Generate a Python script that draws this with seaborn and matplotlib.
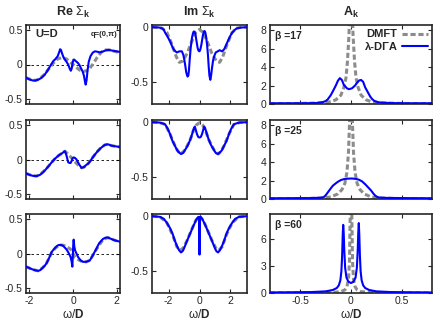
import matplotlib
matplotlib.use("Agg")
import matplotlib.pyplot as plt
import seaborn as sns

# ---------------- data ----------------
# column 1: Re Sigma_k
re1_b_x = [-2.15,-2.0,-1.85,-1.74,-1.6,-1.45,-1.3,-1.15,-1.0,-0.9,-0.8,-0.7,-0.63,-0.59,-0.55,-0.5,-0.43,-0.37,-0.3,-0.22,-0.15,-0.1,-0.06,-0.02,0.02,0.06,0.12,0.2,0.28,0.36,0.44,0.5,0.55,0.58,0.62,0.66,0.72,0.8,0.9,1.0,1.1,1.22,1.35,1.5,1.65,1.8,2.0,2.15]
re1_b_y = [-0.19,-0.215,-0.23,-0.232,-0.22,-0.195,-0.15,-0.08,0.0,0.05,0.08,0.12,0.18,0.22,0.21,0.16,0.1,0.07,0.04,0.0,-0.06,-0.09,-0.06,0.02,0.07,0.07,0.05,0.03,0.0,-0.05,-0.1,-0.16,-0.25,-0.29,-0.23,-0.1,0.04,0.12,0.17,0.19,0.185,0.175,0.185,0.205,0.21,0.2,0.19,0.18]
re1_d_x = [-2.15,-1.9,-1.7,-1.5,-1.3,-1.1,-0.9,-0.7,-0.5,-0.3,-0.15,0,0.15,0.3,0.5,0.7,0.9,1.1,1.3,1.5,1.7,1.9,2.15]
re1_d_y = [-0.19,-0.22,-0.23,-0.2,-0.14,-0.06,0.02,0.08,0.1,0.08,0.04,0.0,-0.04,-0.08,-0.1,-0.08,0.0,0.1,0.18,0.21,0.21,0.19,0.17]

re2_b_x = [-2.15,-2.0,-1.85,-1.67,-1.5,-1.35,-1.21,-1.1,-1.0,-0.83,-0.65,-0.5,-0.42,-0.37,-0.3,-0.22,-0.16,-0.11,-0.06,-0.02,0.04,0.1,0.16,0.23,0.3,0.39,0.5,0.6,0.69,0.8,0.9,1.0,1.1,1.25,1.45,1.6,1.76,1.95,2.15]
re2_b_y = [-0.2,-0.22,-0.235,-0.24,-0.22,-0.18,-0.13,-0.09,-0.05,0.01,0.06,0.09,0.11,0.12,0.06,-0.04,-0.05,-0.05,-0.02,0.02,0.03,0.02,0.0,-0.04,-0.08,-0.12,-0.11,-0.08,-0.06,-0.02,0.03,0.07,0.11,0.16,0.21,0.22,0.2,0.19,0.18]
re2_d_x = [-2.15,-1.9,-1.67,-1.45,-1.21,-1.0,-0.83,-0.65,-0.45,-0.37,-0.2,0,0.2,0.39,0.5,0.69,0.88,1.07,1.25,1.45,1.6,1.76,1.95,2.15]
re2_d_y = [-0.2,-0.23,-0.24,-0.2,-0.13,-0.05,0.01,0.06,0.1,0.12,0.07,0.0,-0.07,-0.12,-0.11,-0.06,0.02,0.1,0.16,0.21,0.22,0.2,0.19,0.18]

re3_b_x = [-2.15,-2.0,-1.85,-1.7,-1.59,-1.5,-1.4,-1.3,-1.21,-1.1,-0.98,-0.88,-0.8,-0.68,-0.55,-0.45,-0.3,-0.22,-0.11,-0.06,-0.03,-0.01,0.01,0.03,0.06,0.1,0.16,0.23,0.35,0.46,0.6,0.77,0.9,1.07,1.2,1.37,1.5,1.6,1.75,1.91,2.15]
re3_b_y = [-0.19,-0.21,-0.23,-0.245,-0.25,-0.24,-0.21,-0.18,-0.14,-0.07,0.02,0.06,0.09,0.12,0.125,0.11,0.06,0.02,-0.05,-0.12,-0.19,-0.05,0.12,0.2,0.1,0.04,0.0,-0.05,-0.1,-0.12,-0.12,-0.1,-0.03,0.07,0.15,0.21,0.23,0.23,0.21,0.19,0.17]
re3_d_x = [-2.15,-1.85,-1.59,-1.4,-1.21,-0.98,-0.8,-0.6,-0.45,-0.3,-0.2,-0.1,0,0.1,0.2,0.3,0.45,0.6,0.77,1.07,1.37,1.6,1.91,2.15]
re3_d_y = [-0.19,-0.23,-0.25,-0.21,-0.14,0.01,0.08,0.12,0.12,0.1,0.08,0.06,0.0,-0.06,-0.08,-0.1,-0.12,-0.12,-0.1,0.06,0.2,0.23,0.19,0.17]

# column 2: Im Sigma_k
im1_b_x = [-3.05,-2.6,-2.43,-2.3,-2.22,-2.05,-1.9,-1.78,-1.68,-1.56,-1.46,-1.3,-1.14,-1.05,-0.99,-0.92,-0.86,-0.8,-0.77,-0.72,-0.68,-0.64,-0.57,-0.49,-0.43,-0.38,-0.33,-0.27,-0.2,-0.12,-0.06,0,0.06,0.12,0.2,0.27,0.33,0.38,0.43,0.49,0.55,0.59,0.64,0.7,0.75,0.81,0.88,0.96,1.05,1.18,1.3,1.46,1.6,1.79,1.95,2.11,2.27,2.43,2.7,3.05]
im1_b_y = [0,-0.003,-0.01,-0.025,-0.05,-0.09,-0.13,-0.17,-0.2,-0.22,-0.23,-0.22,-0.22,-0.25,-0.29,-0.35,-0.41,-0.44,-0.45,-0.44,-0.39,-0.31,-0.19,-0.1,-0.06,-0.04,-0.04,-0.06,-0.12,-0.19,-0.215,-0.22,-0.2,-0.16,-0.09,-0.04,-0.035,-0.05,-0.09,-0.16,-0.26,-0.35,-0.44,-0.48,-0.44,-0.37,-0.3,-0.26,-0.23,-0.22,-0.21,-0.22,-0.2,-0.14,-0.09,-0.05,-0.025,-0.01,-0.003,0]
im1_d_x = [-3.05,-2.6,-2.4,-2.1,-1.8,-1.5,-1.3,-1.1,-0.8,-0.5,-0.25,0,0.25,0.5,0.8,1.1,1.3,1.5,1.8,2.1,2.4,2.6,3.05]
im1_d_y = [0,-0.003,-0.01,-0.05,-0.15,-0.27,-0.32,-0.31,-0.24,-0.13,-0.05,-0.02,-0.05,-0.13,-0.24,-0.31,-0.32,-0.27,-0.15,-0.05,-0.01,-0.003,0]

im2_b_x = [-3.05,-2.6,-2.4,-2.22,-2.05,-1.9,-1.75,-1.57,-1.45,-1.36,-1.2,-1.05,-0.92,-0.75,-0.6,-0.48,-0.42,-0.35,-0.3,-0.24,-0.16,-0.08,0,0.08,0.16,0.24,0.3,0.35,0.42,0.48,0.6,0.75,0.92,1.05,1.2,1.36,1.45,1.57,1.75,1.9,2.05,2.22,2.4,2.6,3.05]
im2_b_y = [0,-0.003,-0.01,-0.02,-0.06,-0.11,-0.17,-0.22,-0.255,-0.27,-0.29,-0.28,-0.25,-0.21,-0.16,-0.11,-0.08,-0.05,-0.04,-0.07,-0.11,-0.135,-0.14,-0.135,-0.11,-0.07,-0.04,-0.05,-0.08,-0.11,-0.16,-0.21,-0.25,-0.28,-0.29,-0.27,-0.255,-0.22,-0.17,-0.11,-0.06,-0.02,-0.01,-0.003,0]
im2_d_x = [-3.05,-2.6,-2.22,-1.9,-1.57,-1.36,-1.2,-0.92,-0.6,-0.4,-0.2,0,0.2,0.4,0.6,0.92,1.2,1.36,1.57,1.9,2.22,2.6,3.05]
im2_d_y = [0,-0.003,-0.02,-0.11,-0.22,-0.27,-0.29,-0.25,-0.16,-0.08,-0.025,-0.005,-0.025,-0.08,-0.16,-0.25,-0.29,-0.27,-0.22,-0.11,-0.02,-0.003,0]

im3_b_x = [-3.05,-2.55,-2.3,-2.11,-1.9,-1.74,-1.6,-1.46,-1.32,-1.2,-1.1,-1.02,-0.85,-0.7,-0.55,-0.4,-0.3,-0.2,-0.1,-0.05,-0.015,0,0.015,0.05,0.1,0.2,0.3,0.4,0.55,0.7,0.85,1.02,1.1,1.2,1.32,1.46,1.6,1.74,1.9,2.11,2.3,2.55,3.05]
im3_b_y = [0,-0.006,-0.025,-0.06,-0.11,-0.16,-0.22,-0.27,-0.31,-0.33,-0.32,-0.3,-0.24,-0.19,-0.14,-0.09,-0.06,-0.03,-0.01,-0.006,-0.05,-0.35,-0.05,-0.006,-0.01,-0.03,-0.06,-0.09,-0.14,-0.19,-0.24,-0.3,-0.32,-0.33,-0.31,-0.27,-0.22,-0.16,-0.11,-0.06,-0.025,-0.006,0]
im3_d_x = [-3.05,-2.55,-2.11,-1.74,-1.46,-1.25,-1.05,-0.8,-0.5,-0.25,0,0.25,0.5,0.8,1.05,1.25,1.46,1.74,2.11,2.55,3.05]
im3_d_y = [0,-0.006,-0.06,-0.17,-0.28,-0.31,-0.29,-0.22,-0.12,-0.04,0,-0.04,-0.12,-0.22,-0.29,-0.31,-0.28,-0.17,-0.06,-0.006,0]

# column 3: A_k
a1_b_x = [-0.8,-0.5,-0.35,-0.28,-0.25,-0.23,-0.2,-0.18,-0.15,-0.13,-0.11,-0.09,-0.07,-0.04,-0.02,0.01,0.04,0.06,0.08,0.1,0.12,0.14,0.17,0.19,0.21,0.23,0.26,0.29,0.4,0.55,0.8]
a1_b_y = [0.08,0.08,0.1,0.2,0.32,0.5,0.95,1.36,2.0,2.5,2.8,2.6,2.05,1.7,1.6,1.7,2.0,2.3,2.55,2.6,2.4,1.8,1.2,0.8,0.52,0.34,0.22,0.16,0.1,0.08,0.08]
a1_d_x = [-0.8,-0.5,-0.3,-0.2,-0.15,-0.1,-0.07,-0.05,-0.035,-0.02,-0.01,0,0.01,0.02,0.035,0.05,0.07,0.1,0.15,0.2,0.3,0.5,0.8]
a1_d_y = [0.03,0.06,0.12,0.25,0.45,0.95,1.8,2.8,4.6,7.5,11,13,11,7.5,4.6,2.8,1.8,0.95,0.45,0.25,0.12,0.06,0.03]

a2_b_x = [-0.8,-0.4,-0.3,-0.27,-0.25,-0.23,-0.2,-0.18,-0.15,-0.13,-0.1,-0.07,-0.03,0.01,0.05,0.08,0.11,0.14,0.17,0.2,0.22,0.24,0.26,0.28,0.35,0.5,0.8]
a2_b_y = [0.08,0.1,0.14,0.2,0.4,0.7,1.15,1.43,1.7,1.86,2.05,2.15,2.2,2.22,2.17,2.08,1.9,1.6,1.25,0.9,0.6,0.36,0.22,0.16,0.12,0.1,0.08]
a2_d_x = [-0.8,-0.5,-0.3,-0.2,-0.13,-0.09,-0.06,-0.04,-0.025,-0.015,-0.007,0,0.007,0.015,0.025,0.04,0.06,0.09,0.13,0.2,0.3,0.5,0.8]
a2_d_y = [0.02,0.04,0.1,0.22,0.55,1.0,1.7,2.9,5.0,8.0,12,15,12,8.0,5.0,2.9,1.7,1.0,0.55,0.22,0.1,0.04,0.02]

a3_b_x = [-0.8,-0.4,-0.25,-0.18,-0.14,-0.12,-0.105,-0.095,-0.088,-0.082,-0.077,-0.072,-0.066,-0.058,-0.045,-0.025,0,0.025,0.045,0.058,0.066,0.072,0.077,0.082,0.088,0.095,0.105,0.12,0.14,0.18,0.25,0.4,0.8]
a3_b_y = [0.06,0.1,0.18,0.33,0.55,0.85,1.4,2.4,4.0,6.3,7.5,6.6,4.6,2.8,1.7,1.25,1.1,1.25,1.7,2.8,4.6,6.7,7.7,6.4,4.1,2.4,1.4,0.85,0.55,0.33,0.18,0.1,0.06]
a3_d_x = [-0.8,-0.4,-0.2,-0.1,-0.06,-0.04,-0.025,-0.015,-0.008,-0.004,0,0.004,0.008,0.015,0.025,0.04,0.06,0.1,0.2,0.4,0.8]
a3_d_y = [0.01,0.02,0.05,0.15,0.35,0.7,1.5,3.5,8.5,14,20,14,8.5,3.5,1.5,0.7,0.35,0.15,0.05,0.02,0.01]

col_titles = [r"Re $\Sigma_\mathbf{k}$", r"Im $\Sigma_\mathbf{k}$", r"$\mathbf{A}_\mathbf{k}$"]
beta_labels = ["\u03b2 =17", "\u03b2 =25", "\u03b2 =60"]
series_labels = ["DMFT", "\u03bb-D\u0393A"]
col_xticks = [[-2, 0, 2], [-2, 0, 2], [-0.5, 0, 0.5]]
col_xticklabels = [["-2", "0", "2"], ["-2", "0", "2"], ["-0.5", "0", "0.5"]]
col_yticks = [[-0.5, 0, 0.5], [-0.5, 0], None]
a_yticks = [[0, 2, 4, 6, 8], [0, 2, 4, 6, 8], [0, 3, 6]]

# ---------------- style ----------------
sns.set_style("ticks")
plt.rcParams["font.family"] = ["Liberation Sans", "DejaVu Sans"]
plt.rcParams.update({
    "axes.unicode_minus": False,
    "mathtext.fontset": "custom",
    "mathtext.rm": "Liberation Sans",
    "mathtext.bf": "Liberation Sans:bold",
    "mathtext.it": "Liberation Sans:italic",
    "xtick.direction": "in", "ytick.direction": "in",
    "xtick.top": True, "ytick.right": True,
    "xtick.major.size": 3, "ytick.major.size": 3,
    "xtick.major.width": 0.8, "ytick.major.width": 0.8,
    "xtick.labelsize": 7.5, "ytick.labelsize": 7.5,
    "xtick.major.pad": 2.5, "ytick.major.pad": 2.5,
    "axes.linewidth": 1.2,
})

BLUE = "#0000ff"
GRAY = "#8c8c8c"
GDASH = (0, (1.7, 0.9))

W, H = 436, 325
col_lr = [(26, 120), (152.3, 246.7), (270, 432)]
row_tb = [(25, 104), (120, 199), (214, 293)]

fig = plt.figure(figsize=(W / 100, H / 100), dpi=100)

data = [
    [(re1_d_x, re1_d_y, re1_b_x, re1_b_y), (im1_d_x, im1_d_y, im1_b_x, im1_b_y), (a1_d_x, a1_d_y, a1_b_x, a1_b_y)],
    [(re2_d_x, re2_d_y, re2_b_x, re2_b_y), (im2_d_x, im2_d_y, im2_b_x, im2_b_y), (a2_d_x, a2_d_y, a2_b_x, a2_b_y)],
    [(re3_d_x, re3_d_y, re3_b_x, re3_b_y), (im3_d_x, im3_d_y, im3_b_x, im3_b_y), (a3_d_x, a3_d_y, a3_b_x, a3_b_y)],
]
xlims = [(-2.15, 2.15), (-3.05, 3.05), (-0.8, 0.8)]
ylims_col = [(-0.57, 0.57), (-0.7, 0.02)]
a_ylims = [(0, 8.55), (0, 8.55), (0, 8.7)]

for r in range(3):
    for c in range(3):
        l, rr = col_lr[c]
        t, b = row_tb[r]
        ax = fig.add_axes([l / W, 1 - b / H, (rr - l) / W, (b - t) / H])
        dx, dy, bx, by = data[r][c]
        if c == 0:
            ax.axhline(0, color="black", lw=0.6, ls=(0, (3, 3)), zorder=1)
        sns.lineplot(x=dx, y=dy, ax=ax, color=GRAY, linewidth=2.2, linestyle=GDASH,
                     estimator=None, sort=False, label=series_labels[0] if (r == 0 and c == 2) else None,
                     legend=False, zorder=2)
        sns.lineplot(x=bx, y=by, ax=ax, color=BLUE, linewidth=1.5,
                     estimator=None, sort=False, label=series_labels[1] if (r == 0 and c == 2) else None,
                     legend=False, zorder=3)
        ax.set_xlim(*xlims[c])
        if c < 2:
            ax.set_ylim(*ylims_col[c])
            ax.set_yticks(col_yticks[c])
            ax.set_yticklabels([("%g" % v) for v in col_yticks[c]])
        else:
            ax.set_ylim(*a_ylims[r])
            ax.set_yticks(a_yticks[r])
            ax.set_yticklabels([str(v) for v in a_yticks[r]])
        ax.set_xticks(col_xticks[c])
        if r == 2:
            ax.set_xticklabels(col_xticklabels[c])
            ax.set_xlabel("\u03c9/$\\mathbf{D}$", fontsize=8.5, labelpad=1)
        else:
            ax.set_xticklabels([])
        ax.set_ylabel("")
        if c == 2:
            ax.text(0.03, 0.93, beta_labels[r], transform=ax.transAxes, fontsize=7.5,
                    fontweight="bold", va="top", ha="left")
        if r == 0 and c == 0:
            ax.text(0.1, 0.95, "U=D", transform=ax.transAxes, fontsize=8,
                    fontweight="bold", va="top", ha="left")
            ax.text(0.97, 0.93, "q=(0,\u03c0)", transform=ax.transAxes, fontsize=5.5,
                    fontweight="bold", va="top", ha="right")
        if r == 0 and c == 2:
            ax.legend(loc="upper right", frameon=False, markerfirst=False,
                      prop={"weight": "bold", "size": 8}, handlelength=2.3,
                      handletextpad=0.4, labelspacing=0.25, borderaxespad=0.2,
                      borderpad=0.2)
        if r == 0:
            fig.text(((l + rr) / 2) / W, 1 - 12 / H, col_titles[c], ha="center",
                     va="center", fontsize=9, fontweight="bold")

fig.savefig("out.png", dpi=100)
